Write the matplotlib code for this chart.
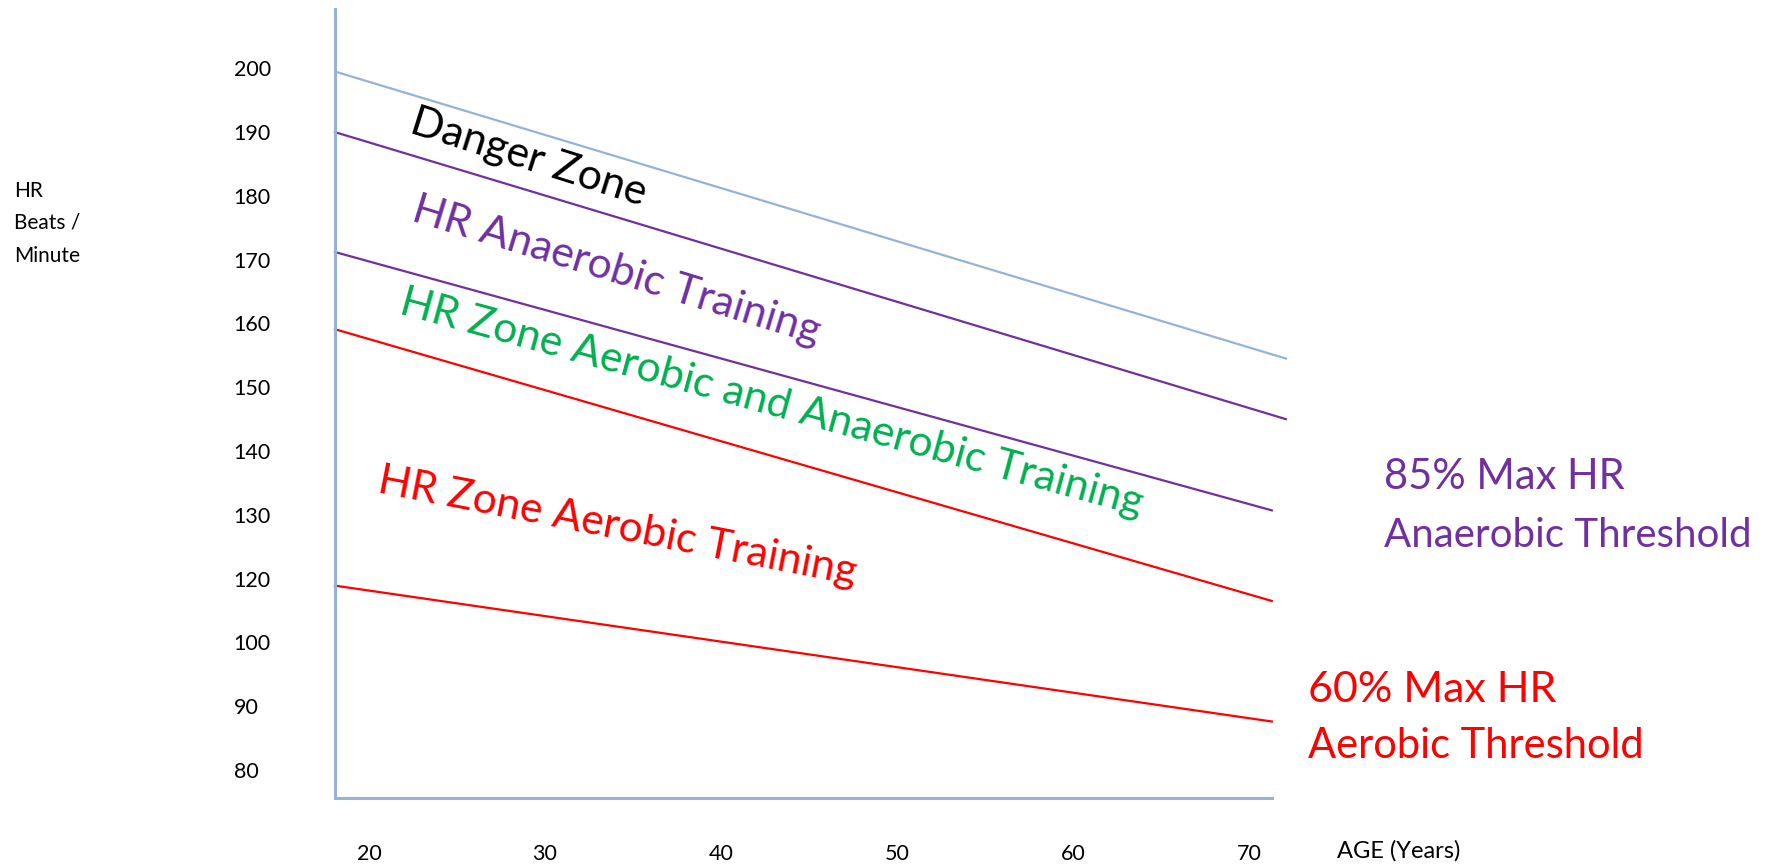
import matplotlib
matplotlib.use('Agg')
import matplotlib.pyplot as plt

plt.rcParams['font.family'] = ['Lato', 'DejaVu Sans']

# Lines (age, axis position)
age_start = 18.07
age_end_top = 72.1
age_end_low = 71.3

max_hr = [199.5, 154.5]        # light blue, top
anaerobic_top = [190.0, 145.0]  # purple
threshold_85 = [171.2, 130.7]   # purple
aerobic_top = [159.1, 116.5]    # red
threshold_60 = [118.9, 97.6]    # red

x_ticks = [20, 30, 40, 50, 60, 70]
y_pos = [200, 190, 180, 170, 160, 150, 140, 130, 120, 110, 100, 90]
y_labels = ['200', '190', '180', '170', '160', '150', '140', '130', '120', '100', '90', '80']

c_blue = '#95B3D7'
c_purple = '#7030A0'
c_green = '#00B050'
c_red = '#FF0000'

fig = plt.figure(figsize=(17.8, 8.68), dpi=100)
ax = fig.add_axes([0.1882, 0.0806, 0.7146 - 0.1882, 0.9896 - 0.0806])

ax.plot([age_start, age_end_top], max_hr, color=c_blue, lw=1.6, clip_on=False)
ax.plot([age_start, age_end_top], anaerobic_top, color=c_purple, lw=1.6, clip_on=False)
ax.plot([age_start, age_end_low], threshold_85, color=c_purple, lw=1.6, clip_on=False)
ax.plot([age_start, age_end_low], aerobic_top, color=c_red, lw=1.6, clip_on=False)
ax.plot([age_start, age_end_low], threshold_60, color=c_red, lw=1.6, clip_on=False)

ax.set_xlim(18.07, 71.31)
ax.set_ylim(85.6, 209.3)

for s in ['top', 'right']:
    ax.spines[s].set_visible(False)
for s in ['left', 'bottom']:
    ax.spines[s].set_color(c_blue)
    ax.spines[s].set_linewidth(2.2)

ax.set_xticks(x_ticks)
ax.set_xticklabels([str(v) for v in x_ticks], fontsize=15.5)
ax.set_yticks(y_pos)
ax.set_yticklabels(y_labels, fontsize=15.5, ha='left')
ax.tick_params(axis='x', length=0, pad=33)
ax.tick_params(axis='y', length=0, pad=73)

# zone labels along the lines
zone_kw = dict(rotation_mode='anchor', ha='left', va='baseline', fontsize=30.8)
ax.text(22.23, 190.0, 'Danger Zone', rotation=-17.5, color='black', **zone_kw)
ax.text(22.34, 176.1, 'HR Anaerobic Training', rotation=-17, color=c_purple, **zone_kw)
ax.text(21.63, 161.6, 'HR Zone Aerobic and Anaerobic Training', rotation=-15.3, color=c_green, **zone_kw)
ax.text(20.44, 133.6, 'HR Zone Aerobic Training', rotation=-11, color=c_red, **zone_kw)

# threshold notes on the right
fig.text(0.7775, 0.4363, '85% Max HR', color=c_purple, fontsize=30, va='baseline')
fig.text(0.7775, 0.3702, 'Anaerobic Threshold', color=c_purple, fontsize=29, va='baseline')
fig.text(0.7348, 0.1916, '60% Max HR', color=c_red, fontsize=31, va='baseline')
fig.text(0.7348, 0.1264, 'Aerobic Threshold', color=c_red, fontsize=30, va='baseline')

fig.text(0.7511, 0.0196, 'AGE (Years)', fontsize=17, va='center')
for txt, yb in zip(['HR', 'Beats /', 'Minute'], [0.7730, 0.7373, 0.6982]):
    fig.text(0.008, yb, txt, fontsize=15, va='baseline')

fig.savefig('out.png', dpi=100)
